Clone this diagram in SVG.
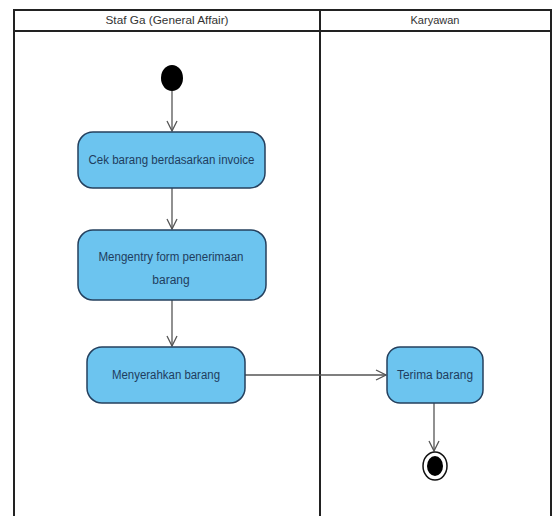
<svg xmlns="http://www.w3.org/2000/svg" width="555" height="516" viewBox="0 0 555 516">
<style>
.lane{fill:none;stroke:#222;stroke-width:2}
.hdr{font-family:"Liberation Sans",Arial,sans-serif;font-size:11px;fill:#333;text-anchor:middle}
.act{fill:#6cc4ef;stroke:#24405e;stroke-width:1.5}
.lbl{font-family:"Liberation Sans",Arial,sans-serif;font-size:12px;fill:#1f3d5e;text-anchor:middle}
.edge{fill:none;stroke:#555;stroke-width:1.3}
</style>
<defs>
<marker id="open" viewBox="0 0 12 12" refX="11" refY="6" markerWidth="12" markerHeight="12" markerUnits="userSpaceOnUse" orient="auto">
<path d="M1,1 L11,6 L1,11" fill="none" stroke="#555" stroke-width="1.3"/>
</marker>
</defs>
<rect width="555" height="516" fill="#fff"/>
<g id="swimlanes">
<path class="lane" d="M14,516 V10 H551 V516 M14,31 H551 M320,10 V516"/>
<text class="hdr" x="167" y="24" textLength="123" lengthAdjust="spacingAndGlyphs">Staf Ga (General Affair)</text>
<text class="hdr" x="435" y="24">Karyawan</text>
</g>
<g id="connectors">
<path class="edge" d="M172,91 V131" marker-end="url(#open)"/>
<path class="edge" d="M172,188 V229" marker-end="url(#open)"/>
<path class="edge" d="M172,300 V346" marker-end="url(#open)"/>
<path class="edge" d="M245,375 H386" marker-end="url(#open)"/>
<path class="edge" d="M434,403 V451" marker-end="url(#open)"/>
</g>
<g id="start">
<ellipse cx="172" cy="78" rx="11" ry="13" fill="#000"/>
</g>
<g id="cek">
<rect class="act" x="78" y="132" width="187" height="56" rx="15"/>
<text class="lbl" x="171.5" y="164" textLength="166" lengthAdjust="spacingAndGlyphs">Cek barang berdasarkan invoice</text>
</g>
<g id="mengentry">
<rect class="act" x="78" y="230" width="188" height="70" rx="15"/>
<text class="lbl" x="171" y="261" textLength="145" lengthAdjust="spacingAndGlyphs">Mengentry form penerimaan</text>
<text class="lbl" x="171" y="284">barang</text>
</g>
<g id="menyerahkan">
<rect class="act" x="87" y="347" width="158" height="56" rx="15"/>
<text class="lbl" x="166" y="379" textLength="108" lengthAdjust="spacingAndGlyphs">Menyerahkan barang</text>
</g>
<g id="terima">
<rect class="act" x="387" y="347" width="96" height="56" rx="13"/>
<text class="lbl" x="435" y="379" textLength="76" lengthAdjust="spacingAndGlyphs">Terima barang</text>
</g>
<g id="end">
<ellipse cx="435" cy="466" rx="12" ry="14" fill="#fff" stroke="#111" stroke-width="1.5"/>
<ellipse cx="435" cy="466" rx="8" ry="10" fill="#000"/>
</g>
</svg>
